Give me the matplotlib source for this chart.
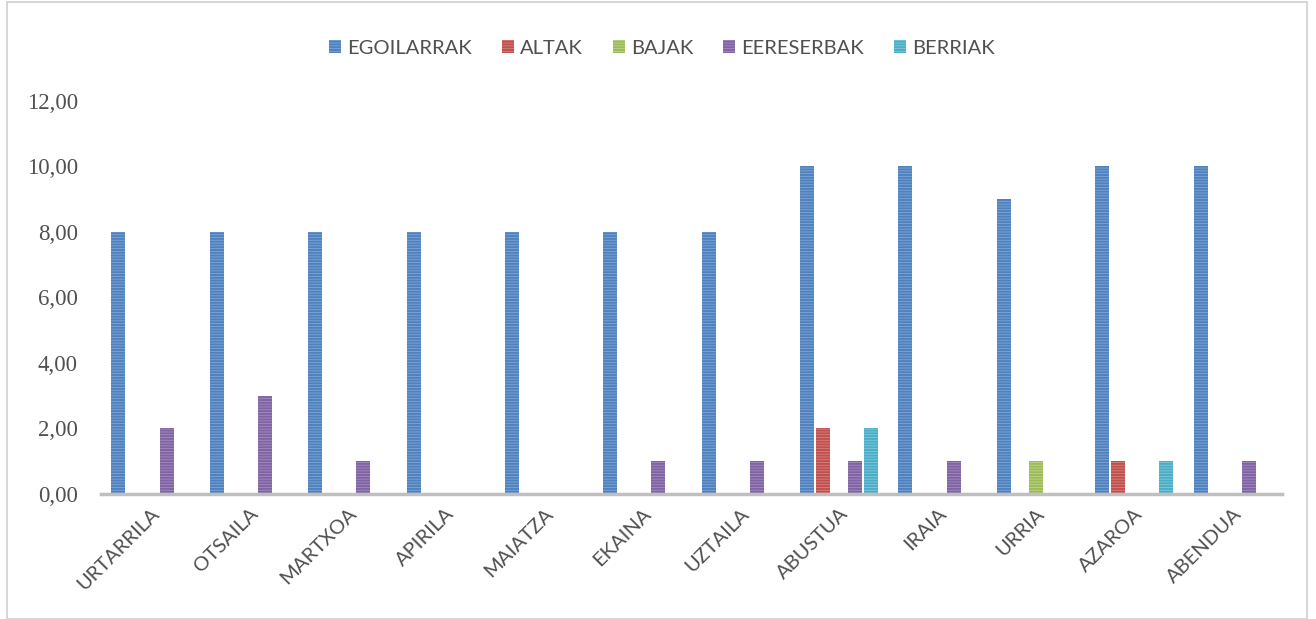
import matplotlib
matplotlib.use("Agg")
import matplotlib.pyplot as plt
import numpy as np
from matplotlib.patches import Rectangle

months = ["URTARRILA", "OTSAILA", "MARTXOA", "APIRILA", "MAIATZA", "EKAINA",
          "UZTAILA", "ABUSTUA", "IRAIA", "URRIA", "AZAROA", "ABENDUA"]
series_names = ["EGOILARRAK", "ALTAK", "BAJAK", "EERESERBAK", "BERRIAK"]
egoilarrak = [8, 8, 8, 8, 8, 8, 8, 10, 10, 9, 10, 10]
altak = [0, 0, 0, 0, 0, 0, 0, 2, 0, 0, 1, 0]
bajak = [0, 0, 0, 0, 0, 0, 0, 0, 0, 1, 0, 0]
eereserbak = [2, 3, 1, 0, 0, 1, 1, 1, 1, 0, 0, 1]
berriak = [0, 0, 0, 0, 0, 0, 0, 2, 0, 0, 1, 0]
yticks = [0, 2, 4, 6, 8, 10, 12]
ytick_labels = ["0,00", "2,00", "4,00", "6,00", "8,00", "10,00", "12,00"]

colors = ["#4F81BD", "#C0504D", "#9BBB59", "#8064A2", "#4BACC6"]
hatch_colors = ["#7FA6D8", "#DB807D", "#BDD68A", "#A48BC2", "#7FCBDD"]

fig = plt.figure(figsize=(13.16, 6.19), dpi=100)
fig.patch.set_facecolor("white")
ax = fig.add_axes([0.077, 0.202, 0.897, 0.635])

plt.rcParams['hatch.linewidth'] = 0.6
x = np.arange(len(months))
slot = 0.163
bw = 0.142
data = [egoilarrak, altak, bajak, eereserbak, berriak]
handles = []
for i, (vals, name) in enumerate(zip(data, series_names)):
    pos = x + (i - 2) * slot
    bars = ax.bar(pos, vals, width=bw, color=colors[i], label=name,
                  edgecolor=hatch_colors[i], linewidth=0, hatch="------", zorder=2)
    handles.append(bars)

ax.set_xlim(-0.5, 11.5)
ax.set_ylim(0, 12)
ax.set_yticks(yticks)
ax.set_yticklabels(ytick_labels, family="Liberation Serif", fontsize=16.5, color="#505050")
ax.set_xticks(x)
ax.set_xticklabels(months, rotation=45, ha="right", rotation_mode="anchor",
                   family="Lato", fontsize=14.5, color="#505050")
ax.tick_params(axis="y", length=0, pad=17)
ax.tick_params(axis="x", length=0, pad=8)
for s in ["top", "right", "left"]:
    ax.spines[s].set_visible(False)
ax.spines["bottom"].set_color("#BFBFBF")
ax.spines["bottom"].set_linewidth(2.5)

leg = fig.legend(handles=handles, labels=series_names, loc="center",
                 bbox_to_anchor=(0.503, 0.922), ncol=5, frameon=False,
                 prop={"family": "Lato", "size": 14.5}, handlelength=0.6,
                 handleheight=0.6, handletextpad=0.3, columnspacing=1.5)
for t in leg.get_texts():
    t.set_color("#505050")

fig.patches.append(Rectangle((0.005, 0.0), 0.988, 0.997, transform=fig.transFigure,
                             fill=False, edgecolor="#D0D0D0", linewidth=1.2))

fig.savefig("out.png", dpi=100)
